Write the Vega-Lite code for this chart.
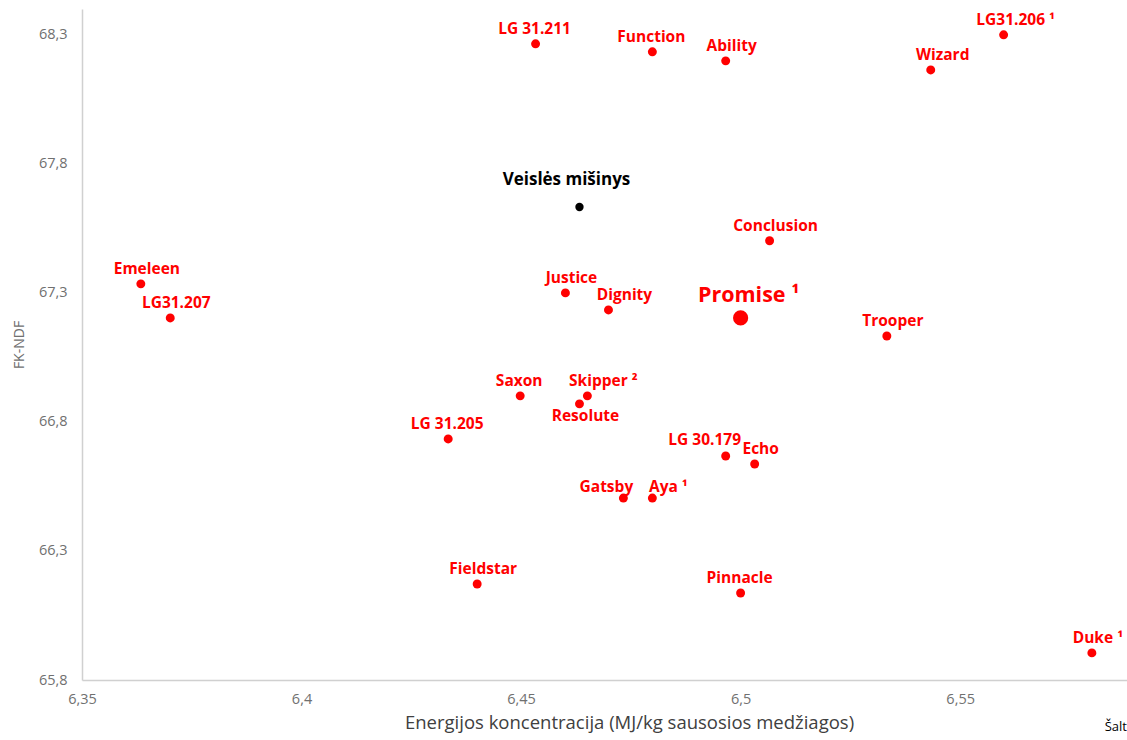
{
  "$schema": "https://vega.github.io/schema/vega-lite/v6.json",
  "width": 1045,
  "height": 671,
  "autosize": {"type": "none"},
  "padding": {"left": 82, "top": 9, "right": 0, "bottom": 60},
  "background": "white",
  "config": {
    "view": {"stroke": null},
    "font": "Open Sans",
    "text": {"font": "Open Sans", "fontWeight": "bold", "fontSize": 15.5, "color": "#FF0000", "baseline": "middle", "align": "center"}
  },
  "title": {
    "text": "Šalt",
    "orient": "bottom",
    "anchor": "end",
    "offset": -11,
    "fontSize": 13,
    "fontWeight": "normal",
    "font": "Open Sans",
    "color": "#000000"
  },
  "data": {
    "values": [
      {"name": "LG 31.211", "energija": 6.4533, "fkndf": 68.265, "tipas": "veislė"},
      {"name": "Function", "energija": 6.4799, "fkndf": 68.234, "tipas": "veislė"},
      {"name": "Ability", "energija": 6.4966, "fkndf": 68.199, "tipas": "veislė"},
      {"name": "LG31.206 ¹", "energija": 6.5599, "fkndf": 68.3, "tipas": "veislė"},
      {"name": "Wizard", "energija": 6.5433, "fkndf": 68.164, "tipas": "veislė"},
      {"name": "Veislės mišinys", "energija": 6.4633, "fkndf": 67.633, "tipas": "mišinys"},
      {"name": "Conclusion", "energija": 6.5066, "fkndf": 67.502, "tipas": "veislė"},
      {"name": "Emeleen", "energija": 6.3634, "fkndf": 67.335, "tipas": "veislė"},
      {"name": "LG31.207", "energija": 6.3701, "fkndf": 67.203, "tipas": "veislė"},
      {"name": "Justice", "energija": 6.4601, "fkndf": 67.3, "tipas": "veislė"},
      {"name": "Dignity", "energija": 6.4699, "fkndf": 67.234, "tipas": "veislė"},
      {"name": "Promise ¹", "energija": 6.5, "fkndf": 67.203, "tipas": "išskirta"},
      {"name": "Trooper", "energija": 6.5333, "fkndf": 67.133, "tipas": "veislė"},
      {"name": "Saxon", "energija": 6.4498, "fkndf": 66.901, "tipas": "veislė"},
      {"name": "Skipper ²", "energija": 6.4651, "fkndf": 66.901, "tipas": "veislė"},
      {"name": "Resolute", "energija": 6.4633, "fkndf": 66.87, "tipas": "veislė"},
      {"name": "LG 31.205", "energija": 6.4334, "fkndf": 66.734, "tipas": "veislė"},
      {"name": "LG 30.179", "energija": 6.4966, "fkndf": 66.668, "tipas": "veislė"},
      {"name": "Echo", "energija": 6.5032, "fkndf": 66.637, "tipas": "veislė"},
      {"name": "Gatsby", "energija": 6.4733, "fkndf": 66.505, "tipas": "veislė"},
      {"name": "Aya ¹", "energija": 6.4799, "fkndf": 66.505, "tipas": "veislė"},
      {"name": "Fieldstar", "energija": 6.44, "fkndf": 66.172, "tipas": "veislė"},
      {"name": "Pinnacle", "energija": 6.5, "fkndf": 66.137, "tipas": "veislė"},
      {"name": "Duke ¹", "energija": 6.58, "fkndf": 65.905, "tipas": "veislė"}
    ]
  },
  "encoding": {
    "x": {
      "field": "energija", "type": "quantitative",
      "scale": {"domain": [6.35, 6.588], "nice": false, "zero": false},
      "axis": {
        "title": "Energijos koncentracija (MJ/kg sausosios medžiagos)",
        "values": [6.35, 6.4, 6.45, 6.5, 6.55],
        "labelExpr": "replace(format(datum.value, '.2~f'), '.', ',')",
        "grid": false, "ticks": false,
        "domainColor": "#D0D0D0", "domainWidth": 1.5,
        "labelColor": "#707070", "labelFontSize": 14.5, "labelFont": "Open Sans", "labelPadding": 12,
        "labelFlush": false,
        "titleColor": "#404040", "titleFontSize": 18.5, "titleFontWeight": "normal", "titleFont": "Open Sans",
        "titlePadding": 8, "titleX": 547, "titleAnchor": "middle"
      }
    },
    "y": {
      "field": "fkndf", "type": "quantitative",
      "scale": {"domain": [65.8, 68.4], "nice": false, "zero": false},
      "axis": {
        "title": "FK-NDF",
        "values": [65.8, 66.3, 66.8, 67.3, 67.8, 68.3],
        "labelExpr": "replace(format(datum.value, '.1f'), '.', ',')",
        "grid": false, "ticks": false,
        "domainColor": "#D0D0D0", "domainWidth": 1.5,
        "labelColor": "#707070", "labelFontSize": 14.5, "labelFont": "Open Sans", "labelPadding": 15,
        "labelFlush": false,
        "titleColor": "#707070", "titleFontSize": 14, "titleFontWeight": "normal", "titleFont": "Open Sans",
        "titlePadding": 12
      }
    }
  },
  "layer": [
    {
      "transform": [{"filter": "datum.tipas == 'veislė'"}],
      "mark": {"type": "circle", "size": 80, "opacity": 1, "color": "#FF0000"}
    },
    {
      "transform": [{"filter": "datum.tipas == 'mišinys'"}],
      "mark": {"type": "circle", "size": 70, "opacity": 1, "color": "#000000"}
    },
    {
      "transform": [{"filter": "datum.tipas == 'išskirta'"}],
      "mark": {"type": "circle", "size": 230, "opacity": 1, "color": "#FF0000"}
    },
    {
      "transform": [{"filter": {"field": "name", "oneOf": ["LG 31.211", "Function", "Saxon", "LG 31.205", "Pinnacle"]}}],
      "mark": {"type": "text", "dx": -1, "dy": -15},
      "encoding": {"text": {"field": "name"}}
    },
    {
      "transform": [{"filter": {"field": "name", "oneOf": ["Ability", "Emeleen", "LG31.207", "Echo", "Conclusion", "Duke ¹", "Justice", "Trooper", "Fieldstar"]}}],
      "mark": {"type": "text", "dx": 6, "dy": -15},
      "encoding": {"text": {"field": "name"}}
    },
    {
      "transform": [{"filter": {"field": "name", "oneOf": ["LG31.206 ¹", "Wizard"]}}],
      "mark": {"type": "text", "dx": 12, "dy": -15},
      "encoding": {"text": {"field": "name"}}
    },
    {
      "transform": [{"filter": {"field": "name", "oneOf": ["Dignity", "Skipper ²"]}}],
      "mark": {"type": "text", "dx": 16, "dy": -15},
      "encoding": {"text": {"field": "name"}}
    },
    {
      "transform": [{"filter": {"field": "name", "oneOf": ["Aya ¹"]}}],
      "mark": {"type": "text", "dx": 16, "dy": -11},
      "encoding": {"text": {"field": "name"}}
    },
    {
      "transform": [{"filter": {"field": "name", "oneOf": ["LG 30.179"]}}],
      "mark": {"type": "text", "dx": -21, "dy": -16},
      "encoding": {"text": {"field": "name"}}
    },
    {
      "transform": [{"filter": {"field": "name", "oneOf": ["Gatsby"]}}],
      "mark": {"type": "text", "dx": -17, "dy": -11},
      "encoding": {"text": {"field": "name"}}
    },
    {
      "transform": [{"filter": {"field": "name", "oneOf": ["Resolute"]}}],
      "mark": {"type": "text", "dx": 6, "dy": 12},
      "encoding": {"text": {"field": "name"}}
    },
    {
      "transform": [{"filter": "datum.tipas == 'išskirta'"}],
      "mark": {"type": "text", "dx": 8, "dy": -22, "fontSize": 21.5},
      "encoding": {"text": {"field": "name"}}
    },
    {
      "transform": [{"filter": "datum.tipas == 'mišinys'"}],
      "mark": {"type": "text", "dx": -13, "dy": -27, "fontSize": 17, "color": "#000000"},
      "encoding": {"text": {"field": "name"}}
    }
  ]
}
